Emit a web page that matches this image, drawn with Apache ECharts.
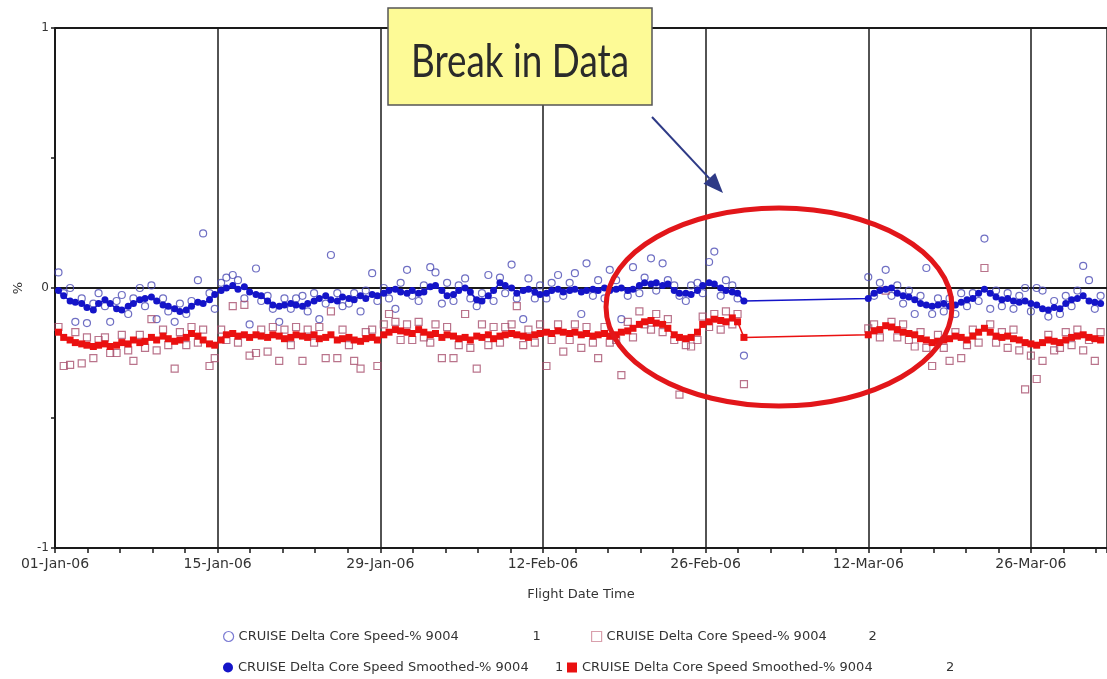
<!DOCTYPE html>
<html>
<head>
<meta charset="utf-8">
<script src="https://cdn.jsdelivr.net/npm/echarts@6/dist/echarts.min.js"></script>
<style>
  html, body { margin: 0; padding: 0; background: #ffffff; }
  #chart { width: 1107px; height: 679px; }
</style>
</head>
<body>
<div id="chart"></div>
<script>
// Flight times in days after 01-Jan-06. No flights recorded between 01-Mar and 12-Mar.
const flightDay = [
  0.3,0.75,1.3,1.75,2.3,2.75,3.3,3.75,4.3,4.75,5.3,5.75,6.3,6.75,7.3,7.75,8.3,8.75,9.3,9.75,
  10.3,10.75,11.3,11.75,12.3,12.75,13.3,13.75,14.3,14.75,15.3,15.75,16.3,16.75,17.3,17.75,18.3,18.75,19.3,19.75,
  20.3,20.75,21.3,21.75,22.3,22.75,23.3,23.75,24.3,24.75,25.3,25.75,26.3,26.75,27.3,27.75,28.3,28.75,29.3,29.75,
  30.3,30.75,31.3,31.75,32.3,32.75,33.3,33.75,34.3,34.75,35.3,35.75,36.3,36.75,37.3,37.75,38.3,38.75,39.3,39.75,
  40.3,40.75,41.3,41.75,42.3,42.75,43.3,43.75,44.3,44.75,45.3,45.75,46.3,46.75,47.3,47.75,48.3,48.75,49.3,49.75,
  50.3,50.75,51.3,51.75,52.3,52.75,53.3,53.75,54.3,54.75,55.3,55.75,56.3,56.75,57.3,57.75,58.3,58.75,59.3,
  70,70.5,71,71.5,72,72.5,73,73.5,74,74.5,
  75,75.5,76,76.5,77,77.5,78,78.5,79,79.5,
  80,80.5,81,81.5,82,82.5,83,83.5,84,84.5,
  85,85.5,86,86.5,87,87.5,88,88.5,89,89.5,
  90
];

// CRUISE Delta Core Speed-% , engine 1 (raw)
const coreSpeed1 = [
  0.06,-0.02,0.0,-0.13,-0.04,-0.135,-0.06,-0.02,-0.07,-0.13,-0.05,-0.027,-0.1,-0.04,0.0,-0.07,0.01,-0.12,-0.04,-0.09,
  -0.13,-0.06,-0.1,-0.05,0.03,0.21,-0.02,-0.08,0.02,0.04,0.05,0.03,-0.04,-0.14,0.075,-0.05,-0.03,-0.08,-0.13,-0.04,
  -0.08,-0.04,-0.03,-0.09,-0.02,-0.12,-0.06,0.127,-0.02,-0.07,-0.06,-0.02,-0.09,-0.01,0.057,-0.05,0.0,-0.04,-0.08,0.02,
  0.07,-0.03,-0.05,0.01,0.08,0.06,-0.06,0.02,-0.05,0.01,0.037,-0.04,-0.07,-0.02,0.05,-0.05,0.04,-0.02,0.09,-0.04,
  -0.12,0.037,-0.04,0.01,-0.04,0.02,0.05,-0.03,0.02,0.057,-0.1,0.095,-0.03,0.03,-0.04,0.07,0.03,-0.12,-0.03,0.08,
  -0.02,0.04,0.114,-0.01,0.095,0.03,0.01,-0.03,-0.05,0.01,0.02,-0.02,0.1,0.14,-0.03,0.03,0.01,-0.04,-0.26,
  0.042,-0.03,0.02,0.07,-0.03,0.01,-0.06,-0.01,-0.1,-0.03,
  0.077,-0.1,-0.04,-0.09,-0.04,-0.1,-0.02,-0.07,-0.02,-0.05,
  0.19,-0.08,-0.01,-0.07,-0.02,-0.08,-0.03,0.0,-0.09,0.0,
  -0.01,-0.11,-0.05,-0.1,-0.03,-0.07,-0.01,0.085,0.03,-0.08,
  -0.03
];

// CRUISE Delta Core Speed-% , engine 2 (raw)
const coreSpeed2 = [
  -0.15,-0.3,-0.296,-0.17,-0.29,-0.19,-0.27,-0.2,-0.19,-0.25,-0.25,-0.18,-0.24,-0.28,-0.18,-0.23,-0.12,-0.24,-0.16,-0.22,
  -0.31,-0.17,-0.22,-0.15,-0.21,-0.16,-0.3,-0.27,-0.16,-0.2,-0.07,-0.21,-0.065,-0.26,-0.25,-0.16,-0.245,-0.15,-0.28,-0.16,
  -0.22,-0.15,-0.28,-0.16,-0.21,-0.15,-0.27,-0.09,-0.27,-0.16,-0.22,-0.28,-0.31,-0.17,-0.16,-0.3,-0.14,-0.1,-0.13,-0.2,
  -0.14,-0.2,-0.13,-0.19,-0.21,-0.14,-0.27,-0.15,-0.27,-0.22,-0.1,-0.23,-0.31,-0.14,-0.22,-0.15,-0.21,-0.15,-0.14,-0.07,
  -0.22,-0.16,-0.21,-0.14,-0.3,-0.2,-0.14,-0.245,-0.2,-0.14,-0.23,-0.15,-0.21,-0.27,-0.15,-0.21,-0.2,-0.335,-0.13,-0.19,
  -0.09,-0.14,-0.16,-0.1,-0.17,-0.12,-0.2,-0.41,-0.22,-0.225,-0.2,-0.11,-0.15,-0.1,-0.16,-0.09,-0.14,-0.1,-0.37,
  -0.155,-0.14,-0.19,-0.01,-0.13,-0.19,-0.14,-0.2,-0.225,-0.17,
  -0.23,-0.3,-0.18,-0.23,-0.28,-0.17,-0.27,-0.22,-0.16,-0.21,
  0.077,-0.14,-0.21,-0.17,-0.23,-0.16,-0.24,-0.39,-0.26,-0.35,
  -0.28,-0.18,-0.24,-0.23,-0.17,-0.22,-0.16,-0.24,-0.2,-0.28,
  -0.17
];

// CRUISE Delta Core Speed Smoothed-% , engine 1
const smoothed1 = [
  -0.01,-0.03,-0.05,-0.055,-0.06,-0.075,-0.085,-0.06,-0.045,-0.06,-0.08,-0.085,-0.07,-0.06,-0.045,-0.04,-0.035,-0.05,-0.065,-0.07,
  -0.08,-0.09,-0.085,-0.07,-0.055,-0.06,-0.045,-0.025,-0.01,0.0,0.01,-0.005,0.005,-0.015,-0.025,-0.03,-0.05,-0.065,-0.07,-0.065,
  -0.06,-0.065,-0.07,-0.06,-0.05,-0.04,-0.03,-0.045,-0.05,-0.035,-0.04,-0.045,-0.03,-0.04,-0.025,-0.03,-0.02,-0.01,-0.005,-0.015,
  -0.02,-0.01,-0.02,-0.015,0.005,0.01,-0.01,-0.03,-0.025,-0.01,0.0,-0.015,-0.045,-0.05,-0.03,-0.01,0.02,0.01,0.0,-0.02,
  -0.01,-0.005,-0.015,-0.025,-0.02,-0.01,-0.005,-0.015,-0.01,-0.005,-0.015,-0.01,-0.005,-0.01,0.0,-0.01,-0.005,0.0,-0.01,-0.005,
  0.01,0.02,0.015,0.02,0.01,0.015,-0.01,-0.02,-0.02,-0.025,-0.01,0.01,0.02,0.015,0.0,-0.01,-0.015,-0.02,-0.05,
  -0.04,-0.02,-0.01,-0.005,0.0,-0.02,-0.03,-0.035,-0.045,-0.06,
  -0.065,-0.07,-0.065,-0.06,-0.07,-0.065,-0.055,-0.045,-0.04,-0.02,
  -0.005,-0.02,-0.035,-0.045,-0.04,-0.05,-0.055,-0.05,-0.06,-0.065,
  -0.08,-0.085,-0.075,-0.08,-0.06,-0.045,-0.04,-0.03,-0.05,-0.055,
  -0.06
];

// CRUISE Delta Core Speed Smoothed-% , engine 2
const smoothed2 = [
  -0.17,-0.19,-0.2,-0.21,-0.215,-0.22,-0.225,-0.22,-0.215,-0.225,-0.22,-0.21,-0.215,-0.2,-0.21,-0.205,-0.19,-0.2,-0.185,-0.195,
  -0.205,-0.2,-0.19,-0.175,-0.185,-0.2,-0.215,-0.22,-0.2,-0.18,-0.175,-0.185,-0.18,-0.19,-0.18,-0.185,-0.19,-0.18,-0.185,-0.195,
  -0.19,-0.18,-0.185,-0.19,-0.18,-0.195,-0.19,-0.18,-0.2,-0.195,-0.19,-0.2,-0.205,-0.195,-0.19,-0.2,-0.18,-0.17,-0.16,-0.165,
  -0.17,-0.175,-0.16,-0.17,-0.18,-0.175,-0.19,-0.18,-0.185,-0.195,-0.19,-0.2,-0.185,-0.19,-0.18,-0.195,-0.185,-0.18,-0.175,-0.18,
  -0.185,-0.19,-0.18,-0.175,-0.17,-0.175,-0.165,-0.17,-0.175,-0.17,-0.18,-0.175,-0.185,-0.18,-0.175,-0.185,-0.18,-0.17,-0.165,-0.155,
  -0.14,-0.13,-0.125,-0.135,-0.14,-0.155,-0.18,-0.19,-0.195,-0.19,-0.17,-0.14,-0.13,-0.12,-0.125,-0.13,-0.115,-0.13,-0.19,
  -0.18,-0.165,-0.16,-0.145,-0.15,-0.16,-0.17,-0.175,-0.18,-0.195,
  -0.2,-0.21,-0.205,-0.2,-0.195,-0.185,-0.19,-0.2,-0.185,-0.17,
  -0.155,-0.17,-0.185,-0.19,-0.185,-0.195,-0.2,-0.21,-0.215,-0.22,
  -0.21,-0.2,-0.205,-0.21,-0.2,-0.19,-0.185,-0.18,-0.19,-0.195,
  -0.2
];

const seriesNames = [
  'CRUISE Delta Core Speed-% 9004',
  'CRUISE Delta Core Speed-% 9004',
  'CRUISE Delta Core Speed Smoothed-% 9004',
  'CRUISE Delta Core Speed Smoothed-% 9004'
];
const engineIds = ['1', '2', '1', '2'];
const xTickLabels = ['01-Jan-06', '15-Jan-06', '29-Jan-06', '12-Feb-06', '26-Feb-06', '12-Mar-06', '26-Mar-06'];
const xAxisTitle = 'Flight Date Time';
const yAxisTitle = '%';
const noteText = 'Break in Data';

const pairs = vals => flightDay.map((d, i) => [d, vals[i]]);
const fullName = i => seriesNames[i] + ' ' + engineIds[i];

const BLUE_RAW = '#4b4bb4';
const RED_RAW = '#a8506e';
const BLUE = '#1414c8';
const RED = '#ea1010';
const FONT = 'DejaVu Sans';
const LEGEND_SIZE = 13;

const chart = echarts.init(document.getElementById('chart'), null, { renderer: 'canvas' });

const legendSlot = (idx, left, top, nameWidth, icon, itemStyle) => ({
  left, top,
  orient: 'horizontal',
  itemWidth: 10, itemHeight: 10, itemGap: 0,
  selectedMode: false,
  data: [{ name: fullName(idx), icon, itemStyle }],
  formatter: n => {
    const cut = n.lastIndexOf(' ');
    return '{n|' + n.slice(0, cut) + '}{k|' + n.slice(cut + 1) + '}';
  },
  textStyle: {
    fontFamily: FONT, fontSize: LEGEND_SIZE, color: '#333',
    rich: {
      n: { width: nameWidth, fontFamily: FONT, fontSize: LEGEND_SIZE, color: '#333' },
      k: { fontFamily: FONT, fontSize: LEGEND_SIZE, color: '#333' }
    }
  }
});

chart.setOption({
  backgroundColor: '#ffffff',
  animation: false,
  grid: { left: 55, right: -2, top: 28, bottom: 131 },
  xAxis: {
    type: 'value',
    min: 0, max: 90.55, interval: 14,
    name: xAxisTitle,
    nameLocation: 'middle', nameGap: 40,
    nameTextStyle: { fontFamily: FONT, fontSize: 13, color: '#333' },
    axisLine: { show: true, onZero: false, lineStyle: { color: '#1a1a1a', width: 2 } },
    axisTick: { show: true, length: 5, lineStyle: { color: '#1a1a1a', width: 1.5 } },
    minorTick: { show: true, splitNumber: 5, length: 5, lineStyle: { color: '#1a1a1a', width: 1.5 } },
    splitLine: { show: true, lineStyle: { color: '#1a1a1a', width: 1.5 } },
    axisLabel: {
      margin: 9, fontFamily: FONT, fontSize: 14, color: '#333', showMaxLabel: false,
      formatter: v => (Math.abs(v / 14 - Math.round(v / 14)) < 1e-6 ? (xTickLabels[Math.round(v / 14)] || '') : '')
    }
  },
  yAxis: {
    type: 'value',
    min: -1, max: 1, interval: 1,
    name: yAxisTitle,
    nameLocation: 'middle', nameGap: 30, nameRotate: 90,
    nameTextStyle: { fontFamily: FONT, fontSize: 13, color: '#333' },
    axisLine: { show: true, onZero: false, lineStyle: { color: '#1a1a1a', width: 2 } },
    axisTick: { show: true, length: 4, lineStyle: { color: '#1a1a1a', width: 1.5 } },
    minorTick: { show: true, splitNumber: 2, length: 4, lineStyle: { color: '#1a1a1a', width: 1.5 } },
    splitLine: { show: true, lineStyle: { color: '#1a1a1a', width: 2 } },
    axisLabel: { margin: 6, fontFamily: FONT, fontSize: 12, color: '#333' }
  },
  legend: [
    legendSlot(0, 218, 625, 294, 'circle', { color: '#ffffff', borderColor: '#5a5ac8', borderWidth: 1.2 }),
    legendSlot(1, 586, 625, 262, 'rect', { color: '#ffffff', borderColor: '#d08898', borderWidth: 1.2 }),
    legendSlot(2, 218, 656, 317, 'circle', { color: BLUE }),
    legendSlot(3, 562, 656, 364, 'rect', { color: RED })
  ],
  series: [
    {
      name: fullName(0), type: 'scatter', z: 2,
      symbol: 'circle', symbolSize: 7,
      itemStyle: { color: 'rgba(255,255,255,0)', borderColor: BLUE_RAW, borderWidth: 1.2 },
      data: pairs(coreSpeed1)
    },
    {
      name: fullName(1), type: 'scatter', z: 2,
      symbol: 'rect', symbolSize: 7,
      itemStyle: { color: 'rgba(255,255,255,0)', borderColor: RED_RAW, borderWidth: 1.2 },
      data: pairs(coreSpeed2)
    },
    {
      name: fullName(2), type: 'line', z: 3,
      symbol: 'circle', symbolSize: 7, showSymbol: true,
      lineStyle: { color: BLUE, width: 1.5 },
      itemStyle: { color: BLUE },
      data: pairs(smoothed1)
    },
    {
      name: fullName(3), type: 'line', z: 3,
      symbol: 'rect', symbolSize: 7, showSymbol: true,
      lineStyle: { color: RED, width: 1.5 },
      itemStyle: { color: RED },
      data: pairs(smoothed2)
    }
  ]
});

// Callout: note box, pointer arrow and the ring around the gap in the record
(function drawCallout() {
  const box = { x: 388, y: 8, w: 264, h: 97 };
  const fontSize = 44;
  const ctx = document.createElement('canvas').getContext('2d');
  ctx.font = fontSize + 'px Lato';
  const textW = ctx.measureText(noteText).width || 1;
  const squeeze = 218 / textW;

  const from = [652, 117];
  const tip = [723, 193];
  const dx = tip[0] - from[0], dy = tip[1] - from[1];
  const len = Math.hypot(dx, dy);
  const ux = dx / len, uy = dy / len;
  const headLen = 20, headHalf = 8;
  const base = [tip[0] - ux * headLen, tip[1] - uy * headLen];
  const head = [
    tip,
    [base[0] - uy * headHalf, base[1] + ux * headHalf],
    [base[0] + uy * headHalf, base[1] - ux * headHalf]
  ];

  chart.setOption({
    graphic: [
      {
        type: 'ellipse', z: 50, silent: true,
        shape: { cx: 779, cy: 307, rx: 173, ry: 99 },
        style: { fill: 'none', stroke: '#e2161a', lineWidth: 5 }
      },
      {
        type: 'line', z: 50, silent: true,
        shape: { x1: from[0], y1: from[1], x2: base[0], y2: base[1] },
        style: { stroke: '#2e3a86', lineWidth: 2 }
      },
      {
        type: 'polygon', z: 50, silent: true,
        shape: { points: head },
        style: { fill: '#2e3a86' }
      },
      {
        type: 'rect', z: 60, silent: true,
        shape: { x: box.x, y: box.y, width: box.w, height: box.h },
        style: { fill: '#fdfa96', stroke: '#555555', lineWidth: 1.5 }
      },
      {
        type: 'text', z: 61, silent: true,
        x: box.x + box.w / 2, y: box.y + 54,
        scaleX: squeeze, scaleY: 1.06,
        style: {
          text: noteText, fontFamily: 'Lato', fontSize: fontSize,
          fill: '#2a2a2a', align: 'center', verticalAlign: 'middle'
        }
      }
    ]
  });
})();
</script>
</body>
</html>
